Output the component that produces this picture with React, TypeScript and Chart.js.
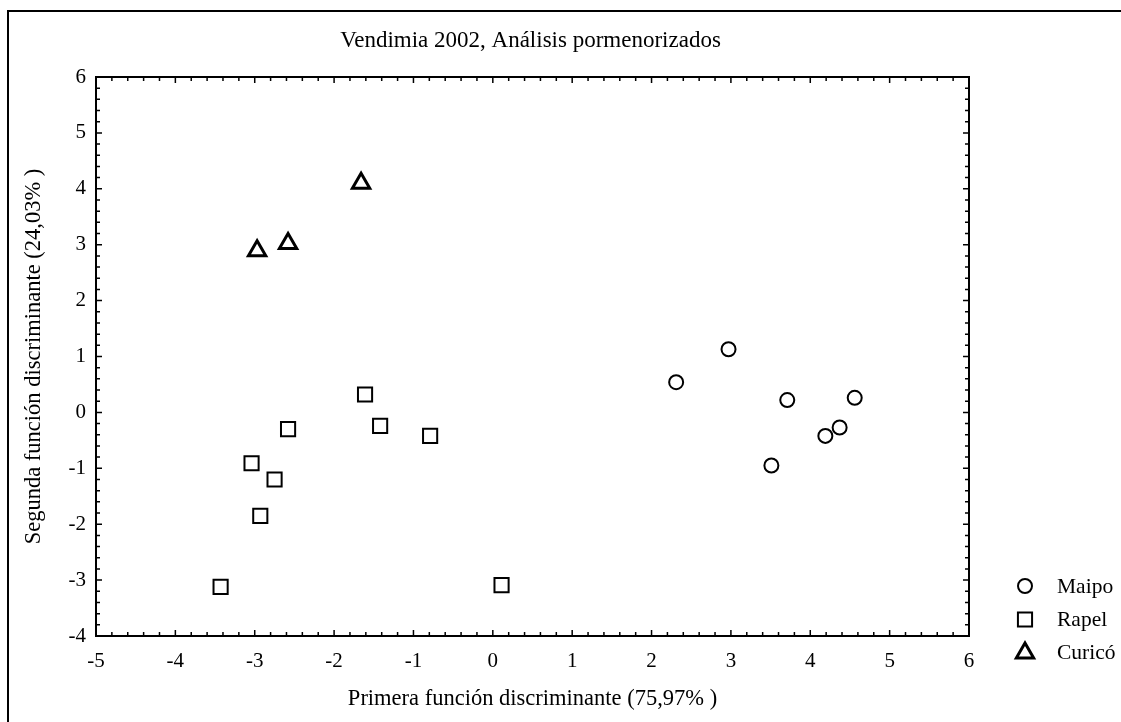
import React, { useEffect, useRef } from "react";
import { Chart, registerables } from "chart.js";

Chart.register(...registerables);

const TITLE = "Vendimia 2002, Análisis pormenorizados";
const X_TITLE = "Primera función discriminante (75,97% )";
const Y_TITLE = "Segunda función discriminante (24,03% )";
const X_MIN = -5;
const X_MAX = 6;
const Y_MIN = -4;
const Y_MAX = 6;

const SERIES_NAMES = ["Maipo", "Rapel", "Curicó"];

const maipoX = [2.31, 2.97, 3.71, 4.56, 4.37, 4.19, 3.51];
const maipoY = [0.54, 1.13, 0.22, 0.26, -0.27, -0.42, -0.95];

const rapelX = [-1.61, -1.42, -0.79, -2.58, -3.04, -2.75, -2.93, -3.43, 0.11];
const rapelY = [0.32, -0.24, -0.42, -0.3, -0.91, -1.2, -1.85, -3.12, -3.09];

const curicoX = [-2.97, -2.58, -1.66];
const curicoY = [2.89, 3.02, 4.1];

const FONT = '"Liberation Serif", "Times New Roman", serif';

const toPoints = (xs: number[], ys: number[]) => xs.map((x, i) => ({ x, y: ys[i] }));

function drawMarker(ctx: CanvasRenderingContext2D, style: string, x: number, y: number) {
  ctx.save();
  ctx.strokeStyle = "#000";
  ctx.beginPath();
  if (style === "circle") {
    ctx.lineWidth = 2;
    ctx.arc(x, y, 7, 0, Math.PI * 2);
  } else if (style === "rect") {
    ctx.lineWidth = 2;
    const s = Math.SQRT1_2 * 10;
    ctx.rect(x - s, y - s, 2 * s, 2 * s);
  } else {
    ctx.lineWidth = 3;
    const r = 10;
    let a = 0;
    ctx.moveTo(x + Math.sin(a) * r, y - Math.cos(a) * r);
    a += (2 * Math.PI) / 3;
    ctx.lineTo(x + Math.sin(a) * r, y - Math.cos(a) * r);
    a += (2 * Math.PI) / 3;
    ctx.lineTo(x + Math.sin(a) * r, y - Math.cos(a) * r);
    ctx.closePath();
  }
  ctx.stroke();
  ctx.restore();
}

const framePlugin = {
  id: "frameTicksLegend",
  afterDraw(chart: any) {
    const ctx: CanvasRenderingContext2D = chart.ctx;
    const { left, right, top, bottom } = chart.chartArea;
    const xs = chart.scales.x;
    const ys = chart.scales.y;
    ctx.save();
    ctx.strokeStyle = "#000";
    ctx.fillStyle = "#000";
    // plot frame
    ctx.lineWidth = 2;
    ctx.strokeRect(left, top, right - left, bottom - top);
    // inward ticks
    ctx.lineWidth = 1.5;
    ctx.beginPath();
    const nx = Math.round((X_MAX - X_MIN) * 5);
    for (let i = 0; i <= nx; i++) {
      const px = xs.getPixelForValue(X_MIN + i * 0.2);
      const len = i % 5 === 0 ? 6 : 4;
      ctx.moveTo(px, bottom);
      ctx.lineTo(px, bottom - len);
      ctx.moveTo(px, top);
      ctx.lineTo(px, top + len);
    }
    const ny = Math.round((Y_MAX - Y_MIN) * 5);
    for (let i = 0; i <= ny; i++) {
      const py = ys.getPixelForValue(Y_MIN + i * 0.2);
      const len = i % 5 === 0 ? 6 : 4;
      ctx.moveTo(left, py);
      ctx.lineTo(left + len, py);
      ctx.moveTo(right, py);
      ctx.lineTo(right - len, py);
    }
    ctx.stroke();
    // outer border (only top/left visible)
    ctx.lineWidth = 2;
    ctx.strokeRect(8, 11, 3000, 3000);
    // title
    ctx.font = `23px ${FONT}`;
    ctx.textAlign = "center";
    ctx.textBaseline = "alphabetic";
    ctx.fillText(TITLE, (left + right) / 2 - 2, 47);
    // legend
    const styles = ["circle", "rect", "triangle"];
    const markerY = [586, 619.5, 653];
    const textY = [593, 626, 659];
    ctx.font = `21.5px ${FONT}`;
    ctx.textAlign = "left";
    SERIES_NAMES.forEach((name, i) => {
      drawMarker(ctx, styles[i], 1025, markerY[i]);
      ctx.fillText(name, 1057, textY[i]);
    });
    ctx.restore();
  },
};

export default function App() {
  const ref = useRef<HTMLCanvasElement | null>(null);
  useEffect(() => {
    if (!ref.current) return;
    const base = {
      showLine: false,
      borderColor: "#000",
      backgroundColor: "rgba(0,0,0,0)",
    };
    const chart = new Chart(ref.current, {
      type: "scatter",
      data: {
        datasets: [
          {
            ...base,
            label: SERIES_NAMES[0],
            data: toPoints(maipoX, maipoY),
            pointStyle: "circle",
            pointRadius: 7,
            pointBorderWidth: 2,
          },
          {
            ...base,
            label: SERIES_NAMES[1],
            data: toPoints(rapelX, rapelY),
            pointStyle: "rect",
            pointRadius: 10,
            pointBorderWidth: 2,
          },
          {
            ...base,
            label: SERIES_NAMES[2],
            data: toPoints(curicoX, curicoY),
            pointStyle: "triangle",
            pointRadius: 10,
            pointBorderWidth: 3,
          },
        ],
      },
      options: {
        responsive: false,
        animation: false,
        events: [],
        layout: { padding: { left: 0, top: 77, right: 152, bottom: 0 } },
        plugins: {
          legend: { display: false },
          title: { display: false },
          tooltip: { enabled: false },
        },
        scales: {
          x: {
            type: "linear",
            position: "bottom",
            min: X_MIN,
            max: X_MAX,
            grid: { display: false, drawTicks: false },
            border: { display: false },
            ticks: {
              stepSize: 1,
              padding: 13,
              color: "#000",
              font: { family: FONT, size: 21 },
            },
            title: {
              display: true,
              text: X_TITLE,
              color: "#000",
              font: { family: FONT, size: 22.5 },
              padding: { top: 0, bottom: 9 },
            },
            afterFit: (scale: any) => {
              scale.height = 86;
            },
          },
          y: {
            type: "linear",
            position: "left",
            min: Y_MIN,
            max: Y_MAX,
            grid: { display: false, drawTicks: false },
            border: { display: false },
            ticks: {
              stepSize: 1,
              padding: 10,
              color: "#000",
              font: { family: FONT, size: 21 },
            },
            title: {
              display: true,
              text: Y_TITLE,
              color: "#000",
              font: { family: FONT, size: 22.5 },
              padding: { top: 21, bottom: 0 },
            },
            afterFit: (scale: any) => {
              scale.width = 96;
            },
          },
        },
      } as any,
      plugins: [framePlugin],
    });
    return () => chart.destroy();
  }, []);
  return (
    <div style={{ position: "fixed", left: 0, top: 0, width: 1121, height: 722, background: "#fff" }}>
      <canvas ref={ref} width={1121} height={722} style={{ display: "block", width: 1121, height: 722 }} />
    </div>
  );
}
